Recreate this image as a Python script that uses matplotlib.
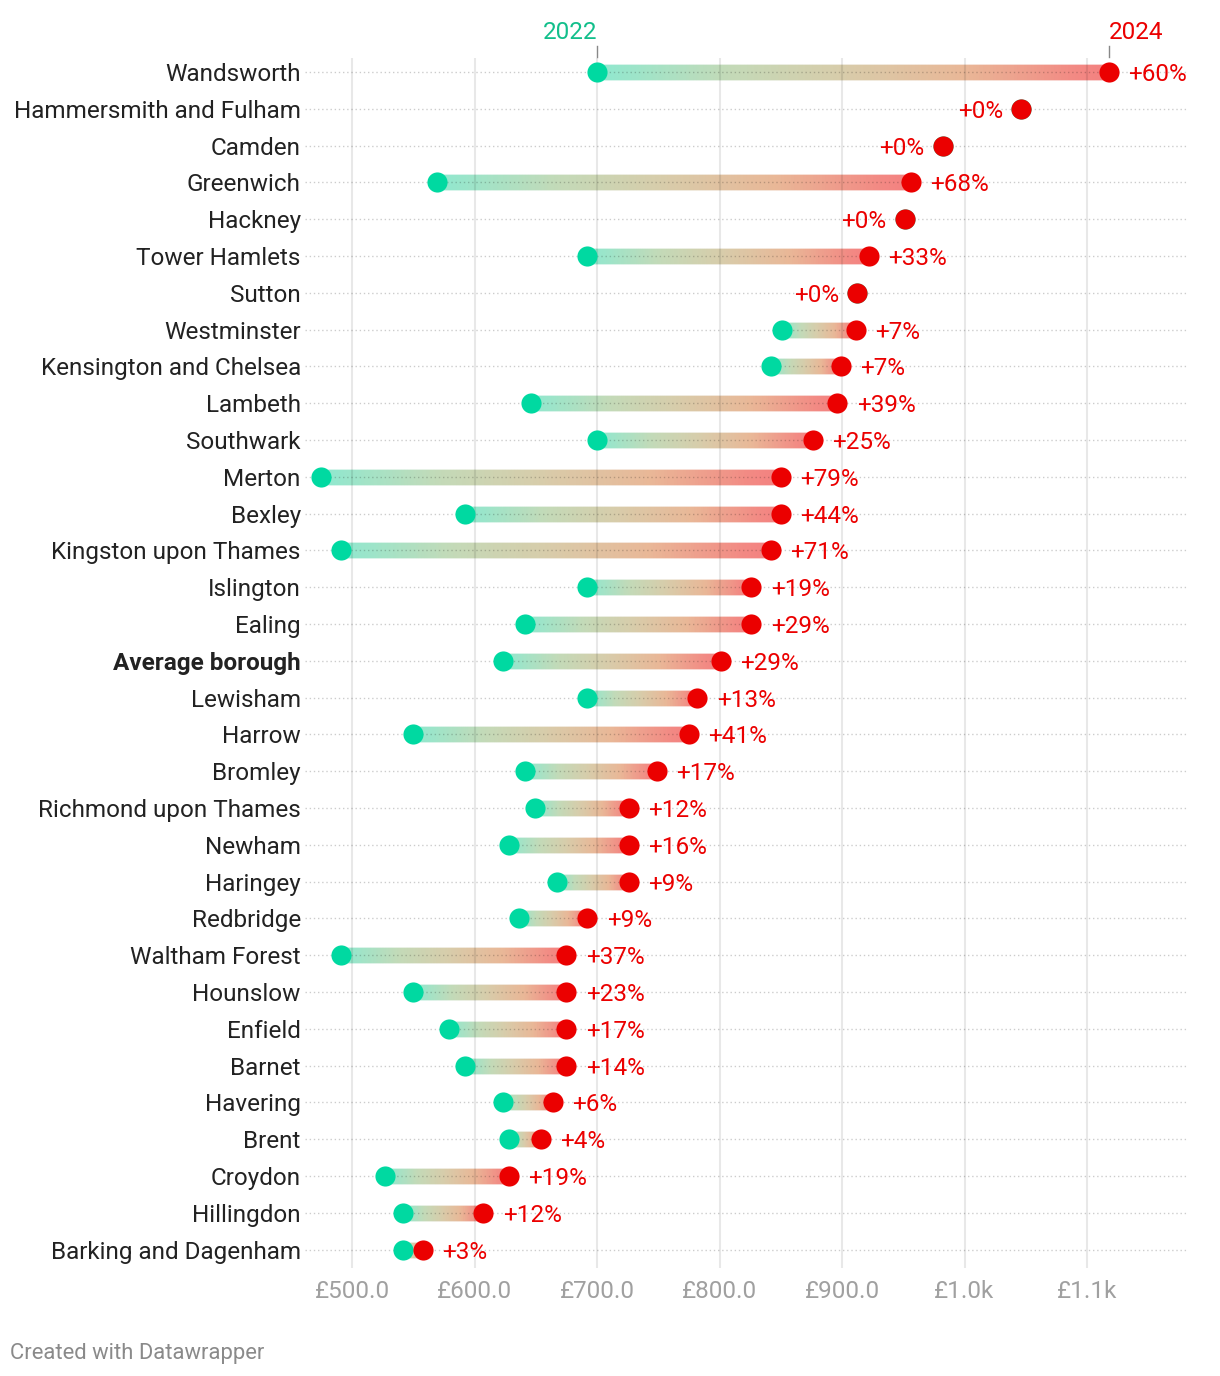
import numpy as np
import matplotlib
matplotlib.use('agg')
import matplotlib.pyplot as plt
from matplotlib.collections import LineCollection
from matplotlib.colors import LinearSegmentedColormap

plt.rcParams['font.family'] = ['Roboto', 'DejaVu Sans']

boroughs = ["Wandsworth", "Hammersmith and Fulham", "Camden", "Greenwich", "Hackney",
            "Tower Hamlets", "Sutton", "Westminster", "Kensington and Chelsea", "Lambeth",
            "Southwark", "Merton", "Bexley", "Kingston upon Thames", "Islington", "Ealing",
            "Average borough", "Lewisham", "Harrow", "Bromley", "Richmond upon Thames",
            "Newham", "Haringey", "Redbridge", "Waltham Forest", "Hounslow", "Enfield",
            "Barnet", "Havering", "Brent", "Croydon", "Hillingdon", "Barking and Dagenham"]
rent_2022 = [700, 1046, 982, 569, 951, 692, 912, 851, 842, 646, 700, 475, 592, 491, 692, 641,
             623, 692, 550, 641, 649, 628, 667, 636, 491, 550, 579, 592, 623, 628, 527, 542, 542]
rent_2024 = [1118, 1046, 982, 956, 951, 922, 912, 911, 899, 896, 876, 850, 850, 842, 826, 826,
             801, 782, 775, 749, 726, 726, 726, 692, 675, 675, 675, 675, 664, 654, 628, 607, 558]
change = ["+60%", "+0%", "+0%", "+68%", "+0%", "+33%", "+0%", "+7%", "+7%", "+39%", "+25%",
          "+79%", "+44%", "+71%", "+19%", "+29%", "+29%", "+13%", "+41%", "+17%", "+12%",
          "+16%", "+9%", "+9%", "+37%", "+23%", "+17%", "+14%", "+6%", "+4%", "+19%", "+12%", "+3%"]
ticks = [500, 600, 700, 800, 900, 1000, 1100]
tick_labels = ["£500.0", "£600.0", "£700.0", "£800.0", "£900.0", "£1.0k", "£1.1k"]

GREEN = "#00d9a1"
RED = "#eb0000"
grad = LinearSegmentedColormap.from_list(
    "bar", [(0, "#8fe8cf"), (0.25, "#c3dab8"), (0.48, "#d8ccaa"),
            (0.72, "#e9b797"), (0.93, "#f28b84"), (1, "#f48080")])

XMIN, XMAX = 461.6, 1182.4
fig = plt.figure(figsize=(12.2, 13.76), dpi=100)
ax = fig.add_axes([305 / 1220, 1 - 1268 / 1376, 883 / 1220, 1210 / 1376])
n = len(boroughs)
y = np.arange(n)
ax.set_xlim(XMIN, XMAX)
ax.set_ylim(n - 1 + 0.5, -0.38)

# grid drawn over the bars with transparency so it shows through like the original
for t in ticks:
    ax.axvline(t, color="black", alpha=0.09, lw=1.5, zorder=2.5)
for yi in y:
    ax.plot([XMIN, XMAX], [yi, yi], color="black", alpha=0.2, lw=1,
            ls=(0, (1, 2)), zorder=2.5)

# gradient bars (segments overlap a little so no seams show)
for yi, a, b in zip(y, rent_2022, rent_2024):
    if b - a < 1:
        continue
    xs = np.linspace(a, b, 151)
    segs = [[(xs[i], yi), (xs[min(i + 3, len(xs) - 1)], yi)] for i in range(len(xs) - 1)]
    cols = grad(np.linspace(0, 1, len(segs)))
    ax.add_collection(LineCollection(segs, colors=cols, linewidths=11, capstyle="butt", zorder=2))

ax.plot(rent_2022, y, "o", color=GREEN, ms=14.5, mec="none", zorder=3)
ax.plot(rent_2024, y, "o", color=RED, ms=14.5, mec="none", zorder=4)

for yi, a, b, lab in zip(y, rent_2022, rent_2024, change):
    if b - a < 1:
        ax.annotate(lab, (b, yi), xytext=(-13, 0), textcoords="offset points",
                    ha="right", va="center_baseline", color=RED, fontsize=17.5)
    else:
        ax.annotate(lab, (b, yi), xytext=(14, 0), textcoords="offset points",
                    ha="left", va="center_baseline", color=RED, fontsize=17.5)

# year headers
ax.annotate("2022", (rent_2022[0], 0), xytext=(0, 20), textcoords="offset points",
            ha="right", va="bottom", color="#12bf8b", fontsize=17.5, annotation_clip=False)
ax.annotate("2024", (rent_2024[0], 0), xytext=(0, 20), textcoords="offset points",
            ha="left", va="bottom", color=RED, fontsize=17.5, annotation_clip=False)
for xv in (rent_2022[0], rent_2024[0]):
    ax.plot([xv, xv], [-0.7, -0.4], color="#888888", lw=1, clip_on=False, zorder=5)

ax.set_yticks(y)
ax.set_yticklabels(boroughs, fontsize=17.5, color="#222222")
for lbl in ax.get_yticklabels():
    if lbl.get_text() == "Average borough":
        lbl.set_fontweight("bold")
ax.set_xticks(ticks)
ax.set_xticklabels(tick_labels, fontsize=17.5, color="#a0a0a0")
ax.tick_params(axis="y", length=0, pad=3)
ax.tick_params(axis="x", length=0, pad=9)
for s in ax.spines.values():
    s.set_visible(False)

fig.text(10 / 1220, 1 - 1353 / 1376, "Created with Datawrapper", fontsize=15.8,
         color="#8a8a8a", va="center", ha="left")

fig.savefig("out.png", dpi=100, facecolor="white")
